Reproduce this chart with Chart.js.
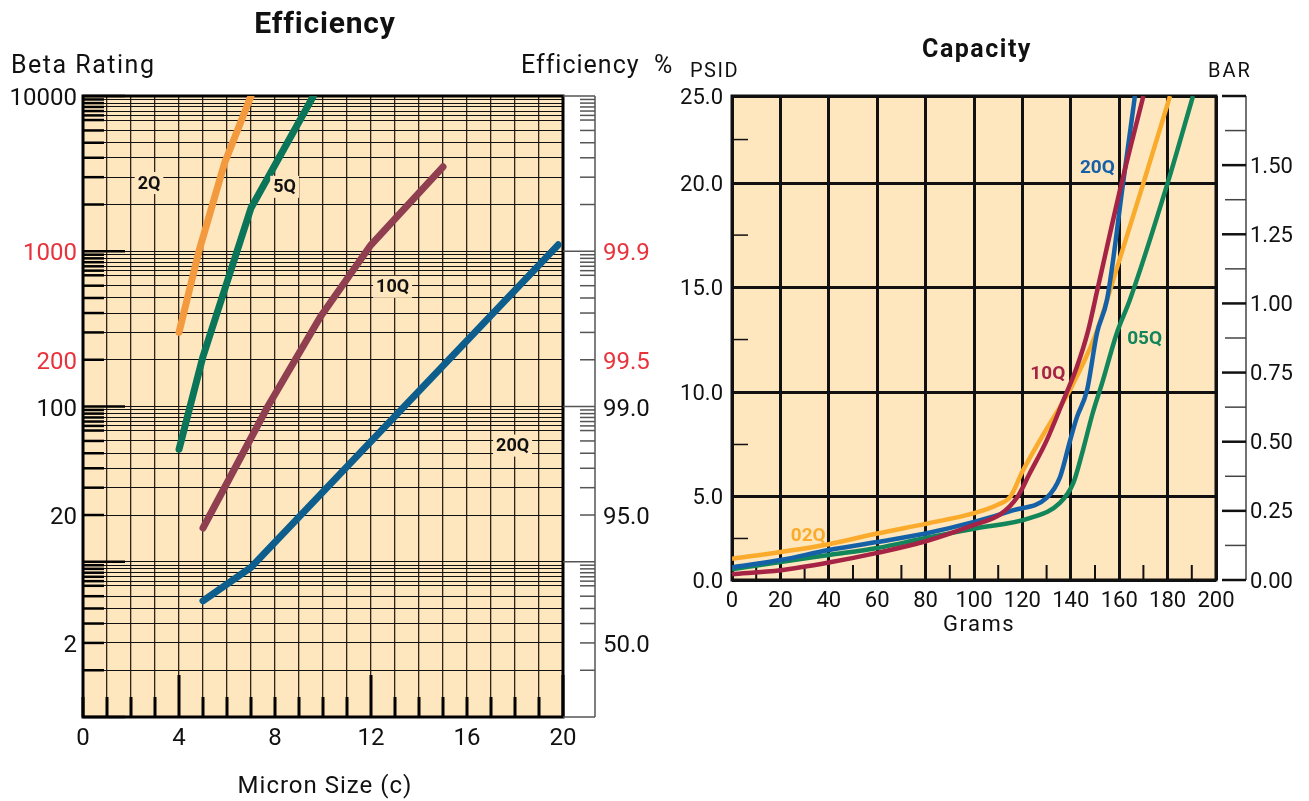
<!DOCTYPE html>
<html>
<head>
<meta charset="utf-8">
<script src="https://cdn.jsdelivr.net/npm/chart.js@4.4.1/dist/chart.umd.min.js"></script>
<style>
  body { margin: 0; background: #fff; font-family: Roboto, "DejaVu Sans", sans-serif; color: #111; }
  #effWrap { position: absolute; left: 0; top: 0; width: 660px; height: 801px; }
  #capWrap { position: absolute; left: 660px; top: 0; width: 649px; height: 640px; }
  .lbl { position: absolute; line-height: 1; white-space: nowrap; transform: translateY(-50%); }
  .ctr { transform: translate(-50%, -50%); }
</style>
</head>
<body>
<div id="effWrap"><canvas id="eff"></canvas></div>
<div id="capWrap"><canvas id="cap"></canvas></div>

<div class="lbl ctr" style="left:325px; top:23px; font-size:30px; font-weight:bold; letter-spacing:0.8px;">Efficiency</div>
<div class="lbl" style="left:11px; top:64px; font-size:25px; letter-spacing:1.5px;">Beta Rating</div>
<div class="lbl" style="left:521px; top:64px; font-size:25px; letter-spacing:1px;">Efficiency&nbsp; %</div>
<div class="lbl ctr" style="left:325px; top:785px; font-size:24px; letter-spacing:1px;">Micron Size (c)</div>
<div class="lbl ctr" style="left:977px; top:48px; font-size:25px; font-weight:bold; letter-spacing:1.5px;">Capacity</div>
<div class="lbl" style="left:690px; top:70px; font-size:20px; letter-spacing:1.5px;">PSID</div>
<div class="lbl" style="left:1208px; top:70px; font-size:20px; letter-spacing:2px;">BAR</div>
<div class="lbl ctr" style="left:979px; top:624px; font-size:22px; letter-spacing:1.5px;">Grams</div>

<script>
// ---------- Efficiency chart data (micron size vs beta rating) ----------
const micron2Q = [4, 4.83, 5.9, 7];
const beta2Q = [300, 1000, 3700, 10000];
const micron5Q = [4, 5, 7, 9.6];
const beta5Q = [53, 210, 1900, 10000];
const micron10Q = [5, 7.7, 9.9, 12, 15];
const beta10Q = [16.5, 100, 380, 1100, 3500];
const micron20Q = [5, 7, 19.8];
const beta20Q = [5.6, 9.2, 1100];

// rulings of the log paper (per decade)
const decadeSteps = [1, 2, 3, 4, 5, 6, 7, 7.5, 8, 8.5, 9, 9.5];
// printed labels sit on these rulings (the "2" / "50.0" pair is printed on the 3 ruling)
const betaLabels = { 10000: '10000', 1000: '1000', 200: '200', 100: '100', 20: '20', 3: '2' };
const effLabels = { 1000: '99.9', 200: '99.5', 100: '99.0', 20: '95.0', 3: '50.0' };
const redTicks = [1000, 200];

const effTags = ['2Q', '5Q', '10Q', '20Q'];
const effTagMicron = [2.75, 8.4, 12.9, 17.9];
const effTagBeta = [2750, 2600, 590, 56];

// ---------- Capacity chart data (grams vs PSID) ----------
const grams02Q = [0, 20, 40, 60, 80, 100, 110, 115, 120, 130, 140, 150, 160, 170, 181];
const psid02Q = [1.1, 1.45, 1.85, 2.4, 2.9, 3.45, 3.9, 4.3, 5.6, 7.8, 9.9, 12.6, 16.5, 20.5, 25];
const grams05Q = [0, 20, 40, 60, 80, 100, 123, 135.5, 141, 145, 149, 153, 159, 164.5, 180, 190.5];
const psid05Q = [0.55, 0.93, 1.29, 1.65, 2.17, 2.65, 3.2, 3.98, 5.0, 6.7, 8.6, 10.2, 12.75, 14.5, 20.5, 25];
const grams10Q = [0, 20, 40, 60, 80, 100, 111, 118, 123, 130, 137, 142.5, 147, 151, 161, 170];
const psid10Q = [0.3, 0.5, 0.9, 1.4, 2.0, 2.85, 3.4, 4.3, 5.5, 7.2, 9.3, 11, 12.8, 15, 20.5, 25];
const grams20Q = [0, 20, 40, 60, 80, 100, 116, 130, 135.5, 139.7, 142.5, 146.7, 150.8, 155, 161.6, 166.5];
const psid20Q = [0.65, 1.03, 1.55, 1.96, 2.4, 3.0, 3.6, 4.24, 5.3, 7.2, 8.4, 9.8, 12.75, 14.5, 20.5, 25];

// the printed PSID rulings are unevenly spaced; where they fall on the (even) BAR scale
const psidRuleAt = [0, 4.29, 9.71, 15.13, 20.5, 25];
const psidRuleLabels = ['0.0', '5.0', '10.0', '15.0', '20.0', '25.0'];
const barTicks = [0, 0.25, 0.5, 0.75, 1, 1.25, 1.5];

const capTags = ['02Q', '05Q', '10Q', '20Q'];
const capTagGrams = [31.5, 170.5, 130.5, 151];
const capTagPsid = [2.3, 12.5, 10.7, 21.3];

const PAPER = '#fee6bf';
const FONT = 'Roboto, "DejaVu Sans", sans-serif';
Chart.defaults.font.family = FONT;
Chart.defaults.color = '#111';

const pts = (xs, ys) => xs.map((x, i) => ({ x: x, y: ys[i] }));

const gridBeta = [];
for (let d = 1; d <= 1000; d *= 10) {
  for (const s of decadeSteps) gridBeta.push(s * d);
}
gridBeta.push(10000);

const isDecade = (v) => Math.abs(Math.log10(v) - Math.round(Math.log10(v))) < 1e-9;

function line(ctx, x1, y1, x2, y2) {
  ctx.beginPath();
  ctx.moveTo(x1, y1);
  ctx.lineTo(x2, y2);
  ctx.stroke();
}

function drawTag(ctx, text, px, py, color, size, bg) {
  ctx.font = 'bold ' + size + 'px ' + FONT;
  ctx.textAlign = 'center';
  ctx.textBaseline = 'middle';
  if (bg) {
    const w = ctx.measureText(text).width;
    ctx.fillStyle = bg;
    ctx.fillRect(px - w / 2 - 3, py - size / 2 - 2, w + 6, size + 4);
  }
  ctx.fillStyle = color;
  ctx.fillText(text, px, py + 1);
}

const effDecor = {
  id: 'effDecor',
  beforeDraw(chart) {
    const { ctx, chartArea: a } = chart;
    ctx.save();
    ctx.fillStyle = PAPER;
    ctx.fillRect(a.left, a.top, a.width, a.height);
    ctx.restore();
  },
  beforeDatasetsDraw(chart) {
    const { ctx, chartArea: a, scales } = chart;
    const x = scales.x, y = scales.y;
    ctx.save();
    ctx.strokeStyle = '#000';
    ctx.lineWidth = 2.5;
    for (const v of gridBeta) {
      const py = y.getPixelForValue(v);
      line(ctx, a.left, py, a.left + (isDecade(v) ? 42 : 21), py);
    }
    ctx.lineWidth = 3;
    for (let m = 0; m <= 20; m++) {
      const px = x.getPixelForValue(m);
      line(ctx, px, a.bottom, px, a.bottom - (m % 8 === 4 ? 42 : 20));
    }
    ctx.strokeRect(a.left, a.top, a.width, a.height);
    // efficiency ruler on the right
    const rx = a.right + 32;
    ctx.strokeStyle = '#555';
    ctx.lineWidth = 1.5;
    line(ctx, rx, a.top, rx, a.bottom);
    for (const v of gridBeta) {
      const py = y.getPixelForValue(v);
      line(ctx, rx - (isDecade(v) ? 32 : 15), py, rx, py);
    }
    ctx.restore();
  },
  afterDatasetsDraw(chart) {
    const { ctx, scales } = chart;
    ctx.save();
    effTags.forEach((t, i) => {
      drawTag(ctx, t, scales.x.getPixelForValue(effTagMicron[i]), scales.y.getPixelForValue(effTagBeta[i]), '#111', 18, PAPER);
    });
    ctx.restore();
  }
};

const capDecor = {
  id: 'capDecor',
  beforeDraw(chart) {
    const { ctx, chartArea: a } = chart;
    ctx.save();
    ctx.fillStyle = PAPER;
    ctx.fillRect(a.left, a.top, a.width, a.height);
    ctx.restore();
  },
  beforeDatasetsDraw(chart) {
    const { ctx, chartArea: a, scales } = chart;
    const x = scales.x, y = scales.y, y2 = scales.y2;
    ctx.save();
    ctx.strokeStyle = '#111';
    ctx.lineWidth = 1.5;
    for (let i = 0; i < psidRuleAt.length - 1; i++) {
      const py = y.getPixelForValue((psidRuleAt[i] + psidRuleAt[i + 1]) / 2);
      line(ctx, a.left, py, a.left + 16, py);
    }
    ctx.lineWidth = 2;
    for (let g = 10; g < 200; g += 20) {
      const px = x.getPixelForValue(g);
      line(ctx, px, a.bottom, px, a.bottom - 15);
    }
    ctx.lineWidth = 3;
    ctx.strokeRect(a.left, a.top, a.width, a.height);
    // BAR ruler
    const rx = a.right + 30;
    ctx.strokeStyle = '#444';
    ctx.lineWidth = 1.5;
    line(ctx, rx, a.top, rx, a.bottom);
    for (let k = 0; k <= 14; k++) {
      const py = y2.getPixelForValue(k * 0.125);
      if (k % 2 === 0) {
        ctx.strokeStyle = '#111'; ctx.lineWidth = 2.5;
        line(ctx, rx - 24, py, rx, py);
      } else {
        ctx.strokeStyle = '#444'; ctx.lineWidth = 1.5;
        line(ctx, rx - 21, py, rx, py);
      }
    }
    ctx.restore();
  },
  afterDatasetsDraw(chart) {
    const { ctx, scales } = chart;
    ctx.save();
    const cols = ['#fbab2b', '#12855a', '#a52445', '#1561a8'];
    capTags.forEach((t, i) => {
      drawTag(ctx, t, scales.x.getPixelForValue(capTagGrams[i]), scales.y.getPixelForValue(capTagPsid[i]), cols[i], 19, null);
    });
    ctx.restore();
  }
};

const effLine = (data, color) => ({
  data: data,
  borderColor: color,
  borderWidth: 7,
  borderCapStyle: 'round',
  borderJoinStyle: 'round',
  pointRadius: 0,
  tension: 0,
  fill: false
});

new Chart(document.getElementById('eff'), {
  type: 'line',
  data: {
    datasets: [
      effLine(pts(micron2Q, beta2Q), '#f49a3e'),
      effLine(pts(micron5Q, beta5Q), '#0a7558'),
      effLine(pts(micron10Q, beta10Q), '#8f3f50'),
      effLine(pts(micron20Q, beta20Q), '#0d5e8c')
    ]
  },
  options: {
    responsive: true,
    maintainAspectRatio: false,
    animation: false,
    layout: { padding: { top: 96, left: 0, right: 0, bottom: 0 } },
    plugins: { legend: { display: false }, tooltip: { enabled: false } },
    scales: {
      x: {
        type: 'linear', min: 0, max: 20,
        afterFit: (s) => { s.height = 84; },
        ticks: {
          stepSize: 1, autoSkip: false, padding: 8, maxRotation: 0,
          font: { size: 24 },
          callback: (v) => (v % 4 === 0 ? String(v) : '')
        },
        grid: { color: '#2e2418', lineWidth: 1.3, drawTicks: false },
        border: { display: false }
      },
      y: {
        type: 'logarithmic', min: 1, max: 10000,
        afterFit: (s) => { s.width = 83; },
        afterBuildTicks: (s) => { s.ticks = gridBeta.map((v) => ({ value: v })); },
        ticks: {
          autoSkip: false, padding: 6, labelOffset: 3,
          font: { size: 24 },
          color: (c) => (redTicks.includes(c.tick && c.tick.value) ? '#e8323c' : '#111'),
          callback: (v) => betaLabels[v] || ''
        },
        grid: { color: '#111', lineWidth: 1, drawTicks: false },
        border: { display: false }
      },
      y2: {
        type: 'logarithmic', position: 'right', min: 1, max: 10000,
        afterFit: (s) => { s.width = 97; },
        afterBuildTicks: (s) => { s.ticks = Object.keys(effLabels).map((k) => ({ value: Number(k) })); },
        ticks: {
          autoSkip: false, padding: 40, labelOffset: 3,
          font: { size: 24 },
          color: (c) => (redTicks.includes(c.tick && c.tick.value) ? '#e8323c' : '#111'),
          callback: (v) => effLabels[v] || ''
        },
        grid: { drawOnChartArea: false, drawTicks: false },
        border: { display: false }
      }
    }
  },
  plugins: [effDecor]
});

const capLine = (data, color) => ({
  data: data,
  borderColor: color,
  borderWidth: 4.5,
  pointRadius: 0,
  cubicInterpolationMode: 'monotone',
  fill: false
});

new Chart(document.getElementById('cap'), {
  type: 'line',
  data: {
    datasets: [
      capLine(pts(grams10Q, psid10Q), '#a52445'),
      capLine(pts(grams20Q, psid20Q), '#1561a8'),
      capLine(pts(grams02Q, psid02Q), '#fbab2b'),
      capLine(pts(grams05Q, psid05Q), '#12855a')
    ]
  },
  options: {
    responsive: true,
    maintainAspectRatio: false,
    animation: false,
    layout: { padding: { top: 96, left: 0, right: 0, bottom: 0 } },
    plugins: { legend: { display: false }, tooltip: { enabled: false } },
    scales: {
      x: {
        type: 'linear', min: 0, max: 200,
        afterFit: (s) => { s.height = 60; },
        ticks: { stepSize: 20, autoSkip: false, padding: 8, maxRotation: 0, font: { size: 22 } },
        grid: { color: '#111', lineWidth: 3, drawTicks: false },
        border: { display: false }
      },
      y: {
        type: 'linear', min: 0, max: 25,
        afterFit: (s) => { s.width = 72; },
        afterBuildTicks: (s) => { s.ticks = psidRuleAt.map((v) => ({ value: v })); },
        ticks: { autoSkip: false, padding: 9, labelOffset: 2, font: { size: 22 }, callback: (v, i) => psidRuleLabels[i] },
        grid: { color: '#111', lineWidth: 3, drawTicks: false },
        border: { display: false }
      },
      y2: {
        type: 'linear', position: 'right', min: 0, max: 1.75,
        afterFit: (s) => { s.width = 93; },
        afterBuildTicks: (s) => { s.ticks = barTicks.map((v) => ({ value: v })); },
        ticks: { autoSkip: false, padding: 34, labelOffset: 2, font: { size: 22 }, callback: (v) => v.toFixed(2) },
        grid: { drawOnChartArea: false, drawTicks: false },
        border: { display: false }
      }
    }
  },
  plugins: [capDecor]
});
</script>
</body>
</html>
